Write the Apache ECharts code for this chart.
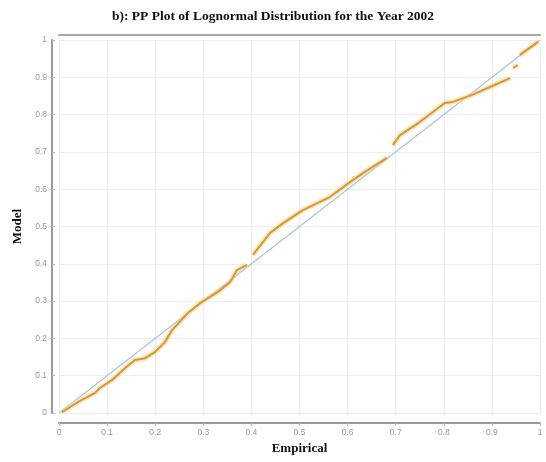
<!DOCTYPE html>
<html>
<head>
<meta charset="utf-8">
<script src="https://cdn.jsdelivr.net/npm/echarts@6/dist/echarts.min.js"></script>
<style>html,body{margin:0;padding:0;background:#fff;}#c{width:546px;height:462px;}</style>
</head>
<body>
<div id="c"></div>
<script>
// Empirical (x) and Model (y) probabilities; null breaks the curve where the reference has gaps
var empiricalX = [0.006,0.040,0.075,0.085,0.110,0.137,0.158,0.179,0.200,0.220,0.235,0.268,0.297,0.330,0.356,0.370,0.391,null,
                  0.403,0.439,0.466,0.507,0.563,0.605,0.632,0.682,null,
                  0.694,0.709,0.750,0.802,0.819,0.859,0.896,0.938,null,
                  0.944,0.954,null,
                  0.958,0.996];
var modelY     = [0.002,0.030,0.054,0.067,0.088,0.120,0.142,0.147,0.164,0.190,0.222,0.268,0.298,0.324,0.351,0.383,0.397,null,
                  0.424,0.483,0.509,0.544,0.579,0.619,0.643,0.684,null,
                  0.718,0.745,0.780,0.831,0.834,0.853,0.874,0.898,null,
                  0.925,0.933,null,
                  0.960,0.995];
var refX = [0, 1];
var refY = [0, 1];
var tickLabels = ['0','0.1','0.2','0.3','0.4','0.5','0.6','0.7','0.8','0.9','1'];

var curve = empiricalX.map(function (x, i) {
  return x === null ? [null, null] : [x, modelY[i]];
});
var ref = refX.map(function (x, i) { return [x, refY[i]]; });

function fmt(v) { return tickLabels[Math.round(v * 10)]; }

var chart = echarts.init(document.getElementById('c'));
chart.setOption({
  animation: false,
  backgroundColor: '#fff',
  title: {
    text: 'b): PP Plot of Lognormal Distribution for the Year 2002',
    left: 'center', top: 5,
    textStyle: { fontFamily: 'Liberation Serif', fontWeight: 'bold', fontSize: 13.5, color: '#111' }
  },
  grid: { left: 59, right: 6, top: 40, bottom: 49 },
  xAxis: [{
    type: 'value', min: 0, max: 1, interval: 0.1, offset: 10,
    name: 'Empirical', nameLocation: 'middle', nameGap: 16,
    nameTextStyle: { fontFamily: 'Liberation Serif', fontWeight: 'bold', fontSize: 13, color: '#111' },
    axisLine: { show: true, onZero: false, lineStyle: { color: '#9a9a9a', width: 2 } },
    axisTick: { show: true, length: 3, lineStyle: { color: '#bbb' } },
    axisLabel: { formatter: fmt, fontSize: 8.5, color: '#999', margin: 5 },
    splitLine: { show: true, lineStyle: { color: '#eeeeee', width: 1 } }
  }, {
    type: 'value', position: 'top', min: 0, max: 1, offset: 5,
    axisLine: { show: true, onZero: false, lineStyle: { color: '#a8a8a8', width: 2 } },
    axisTick: { show: false }, axisLabel: { show: false }, splitLine: { show: false }
  }],
  yAxis: {
    type: 'value', min: 0, max: 1, interval: 0.1, offset: 7,
    name: 'Model', nameLocation: 'middle', nameGap: 24, nameRotate: 90,
    nameTextStyle: { fontFamily: 'Liberation Serif', fontWeight: 'bold', fontSize: 13, color: '#111' },
    axisLine: { show: true, onZero: false, lineStyle: { color: '#9a9a9a', width: 2 } },
    axisTick: { show: true, length: 3, inside: true, lineStyle: { color: '#bbb' } },
    axisLabel: { formatter: fmt, fontSize: 8.5, color: '#999', margin: 5 },
    splitLine: { show: true, lineStyle: { color: '#eeeeee', width: 1 } }
  },
  series: [{
    type: 'line', data: ref, symbol: 'none', silent: true,
    lineStyle: { color: '#a9c2dd', width: 1.2 }, z: 2
  }, {
    type: 'line', data: curve, symbol: 'none', connectNulls: false,
    lineStyle: { color: '#f6d58a', width: 5, opacity: 0.6 }, z: 3
  }, {
    type: 'line', data: curve, symbol: 'none', connectNulls: false,
    lineStyle: { color: '#d9973a', width: 2 }, z: 4
  }]
});
</script>
</body>
</html>
